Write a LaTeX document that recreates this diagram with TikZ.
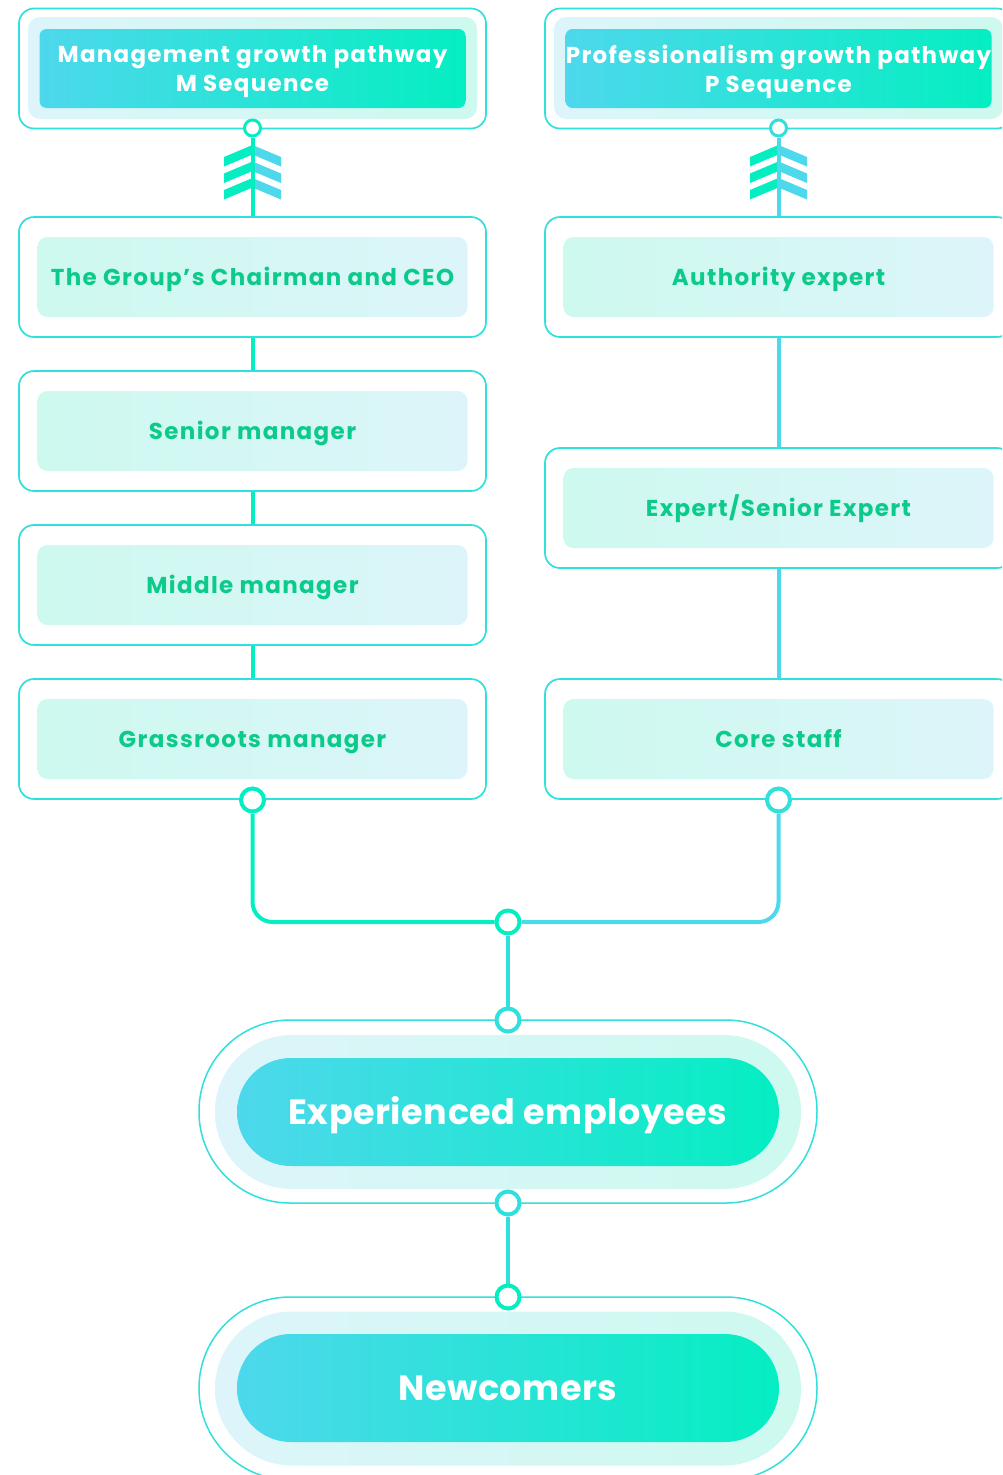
\documentclass[tikz,border=0pt]{standalone}
\usepackage{fontspec}
\setmainfont{Poppins}
\definecolor{cy}{HTML}{4DD8EC}
\definecolor{mt}{HTML}{05EEC2}
\definecolor{tg}{HTML}{0CCB8A}
\definecolor{lc}{HTML}{DDF5FA}
\definecolor{lm}{HTML}{CDF9EF}
\definecolor{ln}{HTML}{30E0DC}
\tikzset{
 outerbox/.style={draw=ln, line width=1.7pt, rounded corners=15pt, minimum width=467pt, minimum height=120pt, inner sep=0pt},
 lightbox/.style={rounded corners=10pt, minimum width=430pt, minimum height=80pt, inner sep=0pt, left color=lm, right color=lc, text=tg, text height=16.5pt, text depth=0pt, font=\bfseries\fontsize{23}{27}\selectfont\addfontfeature{LetterSpace=6}},
 headband/.style={rounded corners=12pt, minimum width=449pt, minimum height=102pt, inner sep=0pt, left color=lc, right color=lm},
 headbox/.style={rounded corners=7pt, minimum width=426pt, minimum height=79pt, inner sep=0pt, left color=cy, right color=mt, text=white, align=center, text depth=0pt, font=\bfseries\fontsize{23}{29}\selectfont\addfontfeature{LetterSpace=5.5}},
 pillout/.style={draw=ln, line width=1.5pt, rounded corners=91pt, minimum width=618pt, minimum height=183pt, inner sep=0pt},
 pillband/.style={rounded corners=76.9pt, minimum width=586pt, minimum height=154pt, inner sep=0pt, left color=lc, right color=lm},
 pillin/.style={rounded corners=53.9pt, minimum width=542pt, minimum height=108pt, inner sep=0pt, left color=cy, right color=mt, text=white, text height=25pt, text depth=0pt, font=\bfseries\fontsize{35}{38}\selectfont\addfontfeature{LetterSpace=1.5}},
 dotS/.style={circle, fill=white, draw=#1, line width=3pt, minimum size=16pt, inner sep=0pt},
 dotL/.style={circle, fill=white, draw=#1, line width=4pt, minimum size=23pt, inner sep=0pt},
 lnk/.style={line width=4pt, draw=#1},
 chev/.pic={
  \foreach \d in {0,16.5,33}{
   \fill[mt] (-28.5,12+\d) -- (0,\d) -- (0,\d+9.5) -- (-28.5,21.5+\d) -- cycle;
   \fill[cy] (28.5,12+\d) -- (0,\d) -- (0,\d+9.5) -- (28.5,21.5+\d) -- cycle;
  }}
}
\begin{document}
\begin{tikzpicture}[x=1pt,y=-1pt]
\clip (0,0) rectangle (1002,1475);
\fill[white] (0,0) rectangle (1002,1475);
% header boxes
\node[outerbox] (mo) at (252.5,68.5) {};
\node[headband] (mb) at (252.5,68) {};
\node[headbox] (mh) at (252.5,68.5) {Management growth pathway\\M Sequence};
\node[outerbox] (po) at (778.5,68.5) {};
\node[headband] (pb) at (778.5,68) {};
\node[headbox] (ph) at (778.5,68.5) {Professionalism growth pathway\\P Sequence};
% left column
\node[outerbox] (ch) at (252.5,277) {};
\node[lightbox] (chi) at (252.5,277) {The Group’s Chairman and CEO};
\node[outerbox] (sm) at (252.5,431) {};
\node[lightbox] (smi) at (252.5,431) {Senior manager};
\node[outerbox] (mm) at (252.5,585) {};
\node[lightbox] (mmi) at (252.5,585) {Middle manager};
\node[outerbox] (gm) at (252.5,739) {};
\node[lightbox] (gmi) at (252.5,739) {Grassroots manager};
% right column
\node[outerbox] (ae) at (778.5,277) {};
\node[lightbox] (aei) at (778.5,277) {Authority expert};
\node[outerbox] (ex) at (778.5,508) {};
\node[lightbox] (exi) at (778.5,508) {Expert/Senior Expert};
\node[outerbox] (cs) at (778.5,739) {};
\node[lightbox] (csi) at (778.5,739) {Core staff};
% pills
\node[pillout] (eo) at (508,1111.5) {};
\node[pillband] (eb) at (508,1112) {};
\node[pillin] (ei) at (508,1112) {Experienced employees};
\node[pillout] (no) at (508,1388.5) {};
\node[pillband] (nb) at (508,1388.5) {};
\node[pillin] (ni) at (508,1388) {Newcomers};
% circles
\node[dotS=mt] (mc) at (252.5,128) {};
\node[dotS=ln] (pc) at (778.5,128) {};
\node[dotL=mt] (gmc) at (252.5,800) {};
\node[dotL=ln] (csc) at (778.5,800) {};
\node[dotL=mt] (jc) at (508,922) {};
\node[dotL=ln] (etc) at (508,1020) {};
\node[dotL=ln] (ebc) at (508,1203) {};
\node[dotL=mt] (ntc) at (508,1297) {};
% chevrons
\pic at (252.5,145) {chev};
\pic at (778.5,145) {chev};
% connectors
\draw[lnk=mt] (mc) -- (ch);
\draw[lnk=cy] (pc) -- (ae);
\draw[lnk=mt] (ch) -- (sm);
\draw[lnk=mt] (sm) -- (mm);
\draw[lnk=mt] (mm) -- (gm);
\draw[lnk=cy] (ae) -- (ex);
\draw[lnk=cy] (ex) -- (cs);
\draw[lnk=mt, rounded corners=20pt] (gmc) |- (jc);
\draw[lnk=cy, rounded corners=20pt] (csc) |- (jc);
\draw[lnk=ln] (jc) -- (etc);
\draw[lnk=ln] (ebc) -- (ntc);
\end{tikzpicture}
\end{document}
